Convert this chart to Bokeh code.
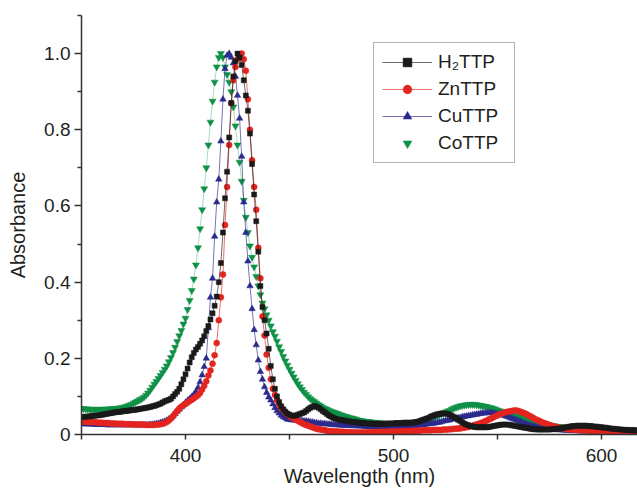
from bokeh.plotting import figure
from bokeh.models import FixedTicker, Legend, LegendItem, Range1d, PrintfTickFormatter
from bokeh.embed import file_html
from bokeh.resources import INLINE

# ---------------- data (1 nm steps) ----------------
wavelength = list(range(350, 618))

h2ttp = [
    0.046, 0.046, 0.047, 0.047, 0.048, 0.048, 0.049, 0.050, 0.050, 0.051,
    0.052, 0.053, 0.054, 0.055, 0.056, 0.057, 0.058, 0.059, 0.059, 0.060,
    0.061, 0.062, 0.062, 0.063, 0.064, 0.064, 0.065, 0.066, 0.067, 0.068,
    0.069, 0.070, 0.071, 0.072, 0.074, 0.075, 0.077, 0.079, 0.081, 0.084,
    0.087, 0.089, 0.091, 0.094, 0.100, 0.106, 0.112, 0.120, 0.132, 0.145,
    0.158, 0.173, 0.189, 0.203, 0.214, 0.223, 0.230, 0.238, 0.247, 0.258,
    0.272, 0.285, 0.302, 0.318, 0.338, 0.362, 0.400, 0.450, 0.530, 0.620,
    0.690, 0.780, 0.870, 0.940, 0.980, 1.000, 0.990, 0.970, 0.930, 0.890,
    0.850, 0.790, 0.710, 0.630, 0.560, 0.480, 0.390, 0.335, 0.300, 0.265,
    0.225, 0.180, 0.145, 0.120, 0.100, 0.085, 0.074, 0.066, 0.060, 0.055,
    0.052, 0.050, 0.049, 0.050, 0.052, 0.054, 0.056, 0.058, 0.062, 0.066,
    0.070, 0.073, 0.075, 0.073, 0.070, 0.066, 0.062, 0.058, 0.054, 0.050,
    0.047, 0.044, 0.042, 0.040, 0.039, 0.038, 0.037, 0.036, 0.035, 0.034,
    0.033, 0.033, 0.032, 0.031, 0.031, 0.030, 0.030, 0.029, 0.029, 0.029,
    0.028, 0.028, 0.028, 0.028, 0.028, 0.028, 0.028, 0.029, 0.029, 0.029,
    0.029, 0.030, 0.030, 0.030, 0.030, 0.031, 0.031, 0.031, 0.031, 0.031,
    0.032, 0.033, 0.034, 0.036, 0.038, 0.040, 0.042, 0.044, 0.047, 0.049,
    0.051, 0.053, 0.054, 0.055, 0.055, 0.055, 0.054, 0.052, 0.049, 0.046,
    0.043, 0.039, 0.036, 0.032, 0.029, 0.026, 0.024, 0.022, 0.021, 0.020,
    0.019, 0.019, 0.019, 0.019, 0.019, 0.019, 0.020, 0.021, 0.022, 0.023,
    0.024, 0.025, 0.026, 0.026, 0.026, 0.026, 0.025, 0.024, 0.023, 0.022,
    0.021, 0.020, 0.019, 0.018, 0.017, 0.016, 0.015, 0.014, 0.014, 0.013,
    0.013, 0.013, 0.013, 0.013, 0.013, 0.013, 0.014, 0.014, 0.015, 0.015,
    0.016, 0.017, 0.018, 0.019, 0.020, 0.021, 0.022, 0.022, 0.023, 0.023,
    0.023, 0.023, 0.023, 0.023, 0.022, 0.022, 0.021, 0.021, 0.020, 0.020,
    0.019, 0.018, 0.018, 0.017, 0.016, 0.015, 0.015, 0.014, 0.014, 0.013,
    0.013, 0.012, 0.012, 0.012, 0.011, 0.011, 0.011, 0.010,
]

znttp = [
    0.034, 0.034, 0.033, 0.033, 0.033, 0.032, 0.032, 0.032, 0.031, 0.031,
    0.031, 0.030, 0.030, 0.030, 0.029, 0.029, 0.029, 0.028, 0.028, 0.028,
    0.028, 0.027, 0.027, 0.027, 0.027, 0.026, 0.026, 0.026, 0.026, 0.026,
    0.026, 0.025, 0.025, 0.025, 0.025, 0.025, 0.026, 0.026, 0.027, 0.028,
    0.030, 0.033, 0.037, 0.042, 0.048, 0.055, 0.062, 0.068, 0.073, 0.077,
    0.080, 0.084, 0.088, 0.091, 0.095, 0.099, 0.103, 0.109, 0.118, 0.128,
    0.140, 0.155, 0.168, 0.186, 0.208, 0.240, 0.300, 0.360, 0.420, 0.550,
    0.650, 0.760, 0.870, 0.930, 0.965, 0.985, 0.995, 1.000, 0.985, 0.955,
    0.880, 0.800, 0.720, 0.650, 0.590, 0.490, 0.410, 0.310, 0.260, 0.210,
    0.175, 0.145, 0.120, 0.104, 0.090, 0.079, 0.070, 0.064, 0.058, 0.053,
    0.049, 0.045, 0.042, 0.039, 0.036, 0.033, 0.030, 0.027, 0.025, 0.023,
    0.021, 0.019, 0.017, 0.015, 0.014, 0.013, 0.012, 0.011, 0.010, 0.009,
    0.009, 0.008, 0.008, 0.008, 0.007, 0.007, 0.007, 0.006, 0.006, 0.006,
    0.006, 0.005, 0.005, 0.005, 0.005, 0.005, 0.005, 0.005, 0.006, 0.006,
    0.006, 0.006, 0.006, 0.006, 0.007, 0.007, 0.007, 0.007, 0.007, 0.008,
    0.008, 0.008, 0.008, 0.008, 0.009, 0.009, 0.009, 0.009, 0.009, 0.010,
    0.010, 0.010, 0.010, 0.010, 0.011, 0.011, 0.011, 0.011, 0.011, 0.012,
    0.012, 0.012, 0.012, 0.012, 0.013, 0.013, 0.013, 0.014, 0.014, 0.015,
    0.015, 0.016, 0.016, 0.017, 0.018, 0.019, 0.020, 0.022, 0.023, 0.025,
    0.026, 0.028, 0.030, 0.032, 0.035, 0.037, 0.040, 0.042, 0.045, 0.048,
    0.050, 0.053, 0.055, 0.057, 0.059, 0.060, 0.061, 0.062, 0.063, 0.063,
    0.062, 0.060, 0.058, 0.056, 0.053, 0.050, 0.047, 0.044, 0.041, 0.038,
    0.036, 0.033, 0.031, 0.029, 0.027, 0.025, 0.023, 0.021, 0.020, 0.019,
    0.018, 0.017, 0.016, 0.015, 0.014, 0.014, 0.013, 0.013, 0.012, 0.012,
    0.011, 0.011, 0.011, 0.011, 0.010, 0.010, 0.010, 0.010, 0.010, 0.010,
    0.010, 0.010, 0.010, 0.010, 0.010, 0.009, 0.009, 0.009, 0.009, 0.009,
    0.009, 0.009, 0.009, 0.009, 0.009, 0.009, 0.009, 0.009,
]

cuttp = [
    0.028, 0.028, 0.027, 0.027, 0.027, 0.027, 0.026, 0.026, 0.026, 0.026,
    0.026, 0.026, 0.025, 0.025, 0.025, 0.025, 0.025, 0.025, 0.025, 0.025,
    0.025, 0.025, 0.025, 0.025, 0.025, 0.025, 0.025, 0.025, 0.025, 0.025,
    0.025, 0.025, 0.025, 0.026, 0.026, 0.027, 0.028, 0.029, 0.031, 0.032,
    0.034, 0.037, 0.040, 0.044, 0.050, 0.055, 0.061, 0.066, 0.072, 0.078,
    0.084, 0.089, 0.094, 0.099, 0.105, 0.112, 0.123, 0.138, 0.156, 0.178,
    0.200, 0.280, 0.360, 0.410, 0.520, 0.610, 0.670, 0.770, 0.880, 0.960,
    0.995, 1.000, 0.990, 0.975, 0.940, 0.890, 0.830, 0.730, 0.610, 0.530,
    0.455, 0.390, 0.330, 0.275, 0.235, 0.195, 0.165, 0.145, 0.125, 0.110,
    0.098, 0.090, 0.080, 0.070, 0.062, 0.056, 0.050, 0.046, 0.043, 0.040,
    0.039, 0.038, 0.038, 0.037, 0.037, 0.036, 0.036, 0.035, 0.035, 0.034,
    0.033, 0.032, 0.031, 0.030, 0.029, 0.029, 0.028, 0.028, 0.027, 0.027,
    0.026, 0.026, 0.025, 0.025, 0.025, 0.024, 0.024, 0.024, 0.023, 0.023,
    0.023, 0.023, 0.022, 0.022, 0.022, 0.022, 0.021, 0.021, 0.021, 0.021,
    0.021, 0.021, 0.020, 0.020, 0.020, 0.020, 0.020, 0.020, 0.020, 0.020,
    0.020, 0.020, 0.020, 0.021, 0.021, 0.021, 0.021, 0.022, 0.022, 0.023,
    0.023, 0.024, 0.024, 0.025, 0.025, 0.026, 0.027, 0.028, 0.028, 0.029,
    0.030, 0.031, 0.032, 0.033, 0.035, 0.036, 0.037, 0.038, 0.040, 0.041,
    0.042, 0.043, 0.044, 0.046, 0.047, 0.048, 0.049, 0.050, 0.051, 0.052,
    0.053, 0.054, 0.055, 0.056, 0.056, 0.057, 0.057, 0.057, 0.056, 0.055,
    0.054, 0.053, 0.052, 0.050, 0.048, 0.046, 0.044, 0.042, 0.040, 0.038,
    0.036, 0.034, 0.031, 0.029, 0.027, 0.025, 0.023, 0.022, 0.021, 0.019,
    0.018, 0.017, 0.017, 0.016, 0.015, 0.014, 0.014, 0.013, 0.013, 0.012,
    0.012, 0.012, 0.011, 0.011, 0.011, 0.010, 0.010, 0.010, 0.010, 0.009,
    0.009, 0.009, 0.009, 0.009, 0.009, 0.008, 0.008, 0.008, 0.008, 0.008,
    0.008, 0.008, 0.008, 0.008, 0.008, 0.008, 0.007, 0.007, 0.007, 0.007,
    0.007, 0.007, 0.007, 0.007, 0.007, 0.007, 0.007, 0.007,
]

cottp = [
    0.068, 0.068, 0.067, 0.067, 0.066, 0.066, 0.066, 0.066, 0.066, 0.066,
    0.066, 0.066, 0.067, 0.067, 0.067, 0.068, 0.068, 0.069, 0.069, 0.070,
    0.071, 0.073, 0.075, 0.077, 0.079, 0.082, 0.085, 0.088, 0.091, 0.094,
    0.098, 0.103, 0.109, 0.116, 0.124, 0.132, 0.139, 0.147, 0.155, 0.163,
    0.171, 0.180, 0.191, 0.202, 0.215, 0.229, 0.244, 0.259, 0.273, 0.290,
    0.305, 0.328, 0.352, 0.378, 0.408, 0.445, 0.490, 0.540, 0.590, 0.645,
    0.700, 0.760, 0.820, 0.875, 0.925, 0.965, 0.990, 1.000, 0.990, 0.965,
    0.945, 0.925, 0.900, 0.860, 0.810, 0.760, 0.715, 0.665, 0.615, 0.570,
    0.530, 0.495, 0.465, 0.440, 0.415, 0.390, 0.367, 0.345, 0.330, 0.314,
    0.300, 0.285, 0.270, 0.258, 0.245, 0.230, 0.218, 0.205, 0.193, 0.182,
    0.171, 0.161, 0.151, 0.142, 0.133, 0.125, 0.118, 0.111, 0.105, 0.099,
    0.094, 0.090, 0.086, 0.082, 0.078, 0.075, 0.071, 0.068, 0.066, 0.063,
    0.061, 0.059, 0.057, 0.055, 0.053, 0.051, 0.049, 0.047, 0.046, 0.044,
    0.043, 0.041, 0.040, 0.038, 0.037, 0.036, 0.035, 0.034, 0.034, 0.033,
    0.032, 0.032, 0.031, 0.031, 0.030, 0.030, 0.029, 0.029, 0.029, 0.028,
    0.028, 0.028, 0.028, 0.029, 0.029, 0.029, 0.030, 0.030, 0.031, 0.031,
    0.032, 0.033, 0.034, 0.035, 0.036, 0.038, 0.039, 0.041, 0.043, 0.044,
    0.047, 0.049, 0.051, 0.054, 0.057, 0.059, 0.061, 0.063, 0.066, 0.069,
    0.071, 0.073, 0.075, 0.076, 0.077, 0.078, 0.079, 0.079, 0.079, 0.079,
    0.078, 0.077, 0.076, 0.075, 0.074, 0.073, 0.071, 0.070, 0.068, 0.066,
    0.064, 0.062, 0.060, 0.059, 0.057, 0.056, 0.054, 0.052, 0.050, 0.048,
    0.047, 0.045, 0.044, 0.042, 0.040, 0.038, 0.037, 0.035, 0.034, 0.032,
    0.031, 0.030, 0.028, 0.027, 0.026, 0.025, 0.024, 0.023, 0.022, 0.021,
    0.020, 0.020, 0.019, 0.018, 0.018, 0.017, 0.017, 0.016, 0.016, 0.015,
    0.015, 0.015, 0.014, 0.014, 0.014, 0.014, 0.014, 0.014, 0.014, 0.014,
    0.014, 0.014, 0.013, 0.013, 0.013, 0.013, 0.013, 0.013, 0.013, 0.013,
    0.012, 0.012, 0.012, 0.012, 0.012, 0.012, 0.012, 0.012,
]

series_names = ["H\u2082TTP", "ZnTTP", "CuTTP", "CoTTP"]
x_ticks = [400, 500, 600]
x_minor_ticks = [350, 450, 550]
y_ticks = [0, 0.2, 0.4, 0.6, 0.8, 1.0]
y_minor_ticks = [0.1, 0.3, 0.5, 0.7, 0.9, 1.1]

# ---------------- figure ----------------
FONT = "Liberation Sans"
TXT = "#231f20"
AX = "#333333"

p = figure(width=637, height=493, output_backend="svg", toolbar_location=None,
           x_range=Range1d(350, 617.3), y_range=Range1d(0, 1.1),
           min_border_left=81, min_border_right=0, min_border_top=15,
           min_border_bottom=59)
p.outline_line_color = None
p.grid.visible = False
p.background_fill_color = "white"
p.border_fill_color = "white"

for ax in (p.xaxis[0], p.yaxis[0]):
    ax.axis_line_color = AX
    ax.axis_line_width = 1.5
    ax.major_tick_line_color = AX
    ax.major_tick_line_width = 1.5
    ax.minor_tick_line_color = AX
    ax.minor_tick_line_width = 1.5
    ax.major_tick_in = 0
    ax.minor_tick_in = 0
    ax.major_label_text_font = FONT
    ax.major_label_text_font_size = "19px"
    ax.major_label_text_color = TXT
    ax.axis_label_text_font = FONT
    ax.axis_label_text_font_size = "20px"
    ax.axis_label_text_font_style = "normal"
    ax.axis_label_text_color = TXT

p.xaxis.ticker = FixedTicker(ticks=x_ticks, minor_ticks=x_minor_ticks)
p.xaxis.major_tick_out = 5
p.xaxis.minor_tick_out = 5
p.xaxis.major_label_standoff = 9
p.xaxis.axis_label = "Wavelength (nm)"
p.xaxis.axis_label_standoff = 0

p.yaxis.ticker = FixedTicker(ticks=y_ticks, minor_ticks=y_minor_ticks)
p.yaxis.formatter = PrintfTickFormatter(format="%.1f")
p.yaxis.major_tick_out = 7
p.yaxis.minor_tick_out = 4
p.yaxis.major_label_standoff = 4
p.yaxis.major_label_overrides = {0: "0"}
p.yaxis.axis_label = "Absorbance"
p.yaxis.axis_label_standoff = 12

colors = ["#1a1a1a", "#e3241f", "#2b2a8c", "#0e9147"]
markers = ["square", "circle", "triangle", "inverted_triangle"]
sizes = [5, 6, 6.5, 7]
data = [h2ttp, znttp, cuttp, cottp]

items = {}
# draw CoTTP first (bottom), H2TTP last (top)
for i in [3, 2, 1, 0]:
    ys = data[i]
    xs = wavelength[:len(ys)]
    ln = p.line(xs, ys, line_color=colors[i], line_width=1,
                line_alpha=0.35 if i == 3 else 0.65)
    sc = p.scatter(xs, ys, marker=markers[i], size=sizes[i],
                   fill_color=colors[i], line_color=colors[i], line_width=0.5)
    items[i] = [sc] if i == 3 else [ln, sc]

legend = Legend(
    items=[LegendItem(label=series_names[i], renderers=items[i]) for i in range(4)],
    location=(292, 271),
    border_line_color="#666666", border_line_width=1,
    background_fill_color="white", background_fill_alpha=1,
    label_text_font=FONT, label_text_font_size="19px", label_text_color=TXT,
    glyph_width=50, glyph_height=22, label_height=22, label_width=68,
    spacing=5, padding=8, margin=0, label_standoff=6,
)
p.add_layout(legend)

open("out.html", "w").write(file_html(p, INLINE))
